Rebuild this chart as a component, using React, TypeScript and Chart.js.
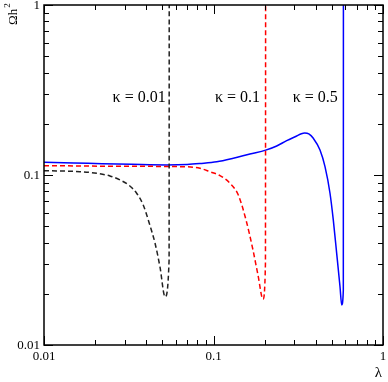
import React, { useEffect, useRef } from "react";
import { Chart, registerables } from "chart.js";

Chart.register(...registerables);

// kappa = 0.01 (black dashed)
const blackLambda = [0.01, 0.0163, 0.0205, 0.0245, 0.0281, 0.0321, 0.0352, 0.0385, 0.0421, 0.0452, 0.0483, 0.0518, 0.0547, 0.0548];
const blackOmega = [0.106, 0.1046, 0.1023, 0.0987, 0.0935, 0.0862, 0.0781, 0.0666, 0.0508, 0.0397, 0.0289, 0.0192, 0.0316, 1];

// kappa = 0.1 (red dashed)
const redLambda = [0.01, 0.03, 0.0661, 0.0832, 0.0953, 0.1092, 0.1252, 0.1401, 0.1556, 0.171, 0.183, 0.196, 0.2025, 0.203];
const redOmega = [0.1135, 0.1125, 0.1119, 0.1095, 0.1045, 0.0991, 0.0894, 0.0762, 0.0543, 0.0362, 0.0258, 0.0186, 0.03, 1];

// kappa = 0.5 (blue solid)
const blueLambda = [0.01, 0.015, 0.022, 0.033, 0.053, 0.07, 0.0832, 0.1045, 0.1309, 0.164, 0.2032, 0.236, 0.2703, 0.3097, 0.33, 0.345, 0.365, 0.388, 0.4249, 0.4548, 0.4868, 0.509, 0.533, 0.5577, 0.5708, 0.5833, 0.584];
const blueOmega = [0.1188, 0.1178, 0.1165, 0.1155, 0.1146, 0.1153, 0.1168, 0.1195, 0.1254, 0.1329, 0.14, 0.1481, 0.1592, 0.1696, 0.1748, 0.1765, 0.1745, 0.1644, 0.1403, 0.1119, 0.0781, 0.0544, 0.0346, 0.022, 0.0172, 0.021, 1];

const xTickValues = [0.01, 0.1, 1];
const xTickLabels = ["0.01", "0.1", "1"];
const yTickValues = [0.01, 0.1, 1];
const yTickLabels = ["0.01", "0.1", "1"];

const annotationTexts = ["\u03ba = 0.01", "\u03ba = 0.1", "\u03ba = 0.5"];
const annotationLambda = [0.0254, 0.102, 0.293];
const annotationOmega = 0.268;

const toPoints = (xs: number[], ys: number[]) => xs.map((x, i) => ({ x, y: ys[i] }));

const SERIF = "'Liberation Serif', 'DejaVu Serif', serif";

const framePlugin = {
  id: "rootFrame",
  afterDraw(chart: any) {
    const { ctx, chartArea, scales } = chart;
    const xs = scales.x;
    const ys = scales.y;
    const { left, right, top, bottom } = chartArea;
    ctx.save();
    ctx.strokeStyle = "#000";
    ctx.lineWidth = 1.5;
    ctx.strokeRect(left, top, right - left, bottom - top);
    ctx.lineWidth = 1;
    const tickVals: { v: number; major: boolean }[] = [];
    [0.01, 0.1].forEach((d) => {
      for (let m = 1; m <= 9; m++) tickVals.push({ v: m * d, major: m === 1 });
    });
    tickVals.push({ v: 1, major: true });
    ctx.beginPath();
    tickVals.forEach(({ v, major }) => {
      const len = major ? 9 : 5;
      const px = Math.round(xs.getPixelForValue(v)) + 0.5;
      ctx.moveTo(px, bottom);
      ctx.lineTo(px, bottom - len);
      ctx.moveTo(px, top);
      ctx.lineTo(px, top + len);
      const py = Math.round(ys.getPixelForValue(v)) + 0.5;
      ctx.moveTo(left, py);
      ctx.lineTo(left + len, py);
      ctx.moveTo(right, py);
      ctx.lineTo(right - len, py);
    });
    ctx.stroke();

    ctx.fillStyle = "#000";
    ctx.font = `13px ${SERIF}`;
    ctx.textAlign = "center";
    ctx.textBaseline = "alphabetic";
    xTickValues.forEach((v, i) => {
      ctx.fillText(xTickLabels[i], xs.getPixelForValue(v), bottom + 15);
    });
    ctx.textAlign = "right";
    ctx.textBaseline = "middle";
    yTickValues.forEach((v, i) => {
      ctx.fillText(yTickLabels[i], left - 4, ys.getPixelForValue(v) + 1);
    });

    // axis titles
    ctx.font = `15px ${SERIF}`;
    ctx.textAlign = "right";
    ctx.textBaseline = "alphabetic";
    ctx.fillText("\u03bb", right - 1, bottom + 32);

    ctx.save();
    ctx.translate(17, 25);
    ctx.rotate(-Math.PI / 2);
    ctx.textAlign = "left";
    ctx.font = `13px ${SERIF}`;
    ctx.fillText("\u03a9h", 0, 0);
    const w = ctx.measureText("\u03a9h").width;
    ctx.font = `9px ${SERIF}`;
    ctx.fillText("2", w + 1, -7);
    ctx.restore();

    // annotations
    ctx.font = `16px ${SERIF}`;
    ctx.textAlign = "left";
    ctx.textBaseline = "alphabetic";
    annotationTexts.forEach((t, i) => {
      ctx.fillText(t, xs.getPixelForValue(annotationLambda[i]), ys.getPixelForValue(annotationOmega));
    });
    ctx.restore();
  },
};

export default function App() {
  const canvasRef = useRef<HTMLCanvasElement | null>(null);

  useEffect(() => {
    if (!canvasRef.current) return;
    const chart = new Chart(canvasRef.current, {
      type: "line",
      data: {
        datasets: [
          {
            label: "kappa=0.01",
            data: toPoints(blackLambda, blackOmega),
            borderColor: "#222",
            borderWidth: 1.5,
            borderDash: [5, 3],
            pointRadius: 0,
            cubicInterpolationMode: "monotone",
          },
          {
            label: "kappa=0.1",
            data: toPoints(redLambda, redOmega),
            borderColor: "#ff0000",
            borderWidth: 1.5,
            borderDash: [5, 3],
            pointRadius: 0,
            cubicInterpolationMode: "monotone",
          },
          {
            label: "kappa=0.5",
            data: toPoints(blueLambda, blueOmega),
            borderColor: "#0000ff",
            borderWidth: 1.5,
            pointRadius: 0,
            cubicInterpolationMode: "monotone",
          },
        ],
      },
      options: {
        animation: false,
        responsive: false,
        events: [],
        layout: { padding: { left: 44, top: 5, right: 5, bottom: 37 } },
        plugins: { legend: { display: false }, tooltip: { enabled: false } },
        scales: {
          x: { type: "logarithmic", min: 0.01, max: 1, display: false },
          y: { type: "logarithmic", min: 0.01, max: 1, display: false },
        },
      },
      plugins: [framePlugin],
    });
    return () => chart.destroy();
  }, []);

  return (
    <div style={{ position: "absolute", left: 0, top: 0, width: 388, height: 382, background: "#fff" }}>
      <canvas ref={canvasRef} width={388} height={382} />
    </div>
  );
}
